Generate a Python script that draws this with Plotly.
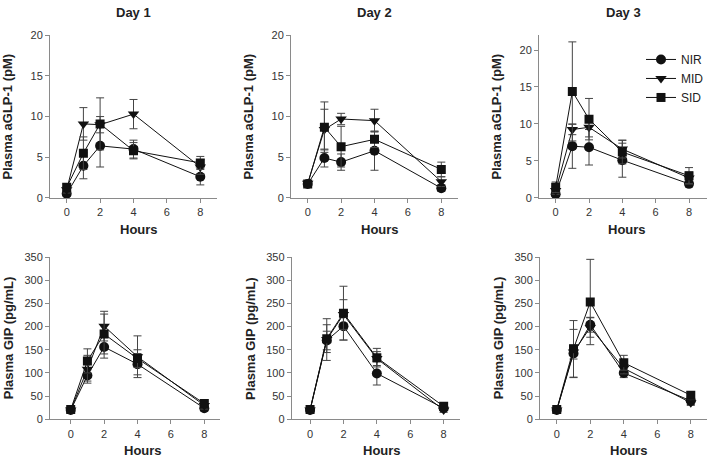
import plotly.graph_objects as go

# ---------------- data ----------------
hours = [0, 1, 2, 4, 8]
series_names = ["NIR", "MID", "SID"]
day_titles = ["Day 1", "Day 2", "Day 3"]
x_ticks = [0, 2, 4, 6, 8]

# aGLP-1 (pM)
glp1_day1_nir = [0.5, 3.95, 6.4, 6.0, 2.6]
glp1_day1_nir_err = [0.3, 1.6, 2.6, 1.1, 1.0]
glp1_day1_mid = [1.0, 9.1, 9.0, 10.3, 3.8]
glp1_day1_mid_err = [0.4, 2.0, 1.0, 1.8, 0.9]
glp1_day1_sid = [1.3, 5.5, 9.1, 5.8, 4.3]
glp1_day1_sid_err = [0.4, 2.0, 3.2, 1.0, 0.8]

glp1_day2_nir = [1.7, 4.9, 4.4, 5.8, 1.2]
glp1_day2_nir_err = [0.2, 1.1, 1.0, 2.4, 0.4]
glp1_day2_mid = [1.8, 8.4, 9.7, 9.5, 2.0]
glp1_day2_mid_err = [0.2, 2.5, 0.7, 1.4, 0.6]
glp1_day2_sid = [1.7, 8.7, 6.3, 7.2, 3.5]
glp1_day2_sid_err = [0.3, 3.1, 2.5, 1.0, 0.9]

glp1_day3_nir = [0.5, 7.0, 6.85, 5.1, 1.9]
glp1_day3_nir_err = [0.3, 3.0, 2.4, 2.3, 0.4]
glp1_day3_mid = [1.0, 9.25, 9.55, 6.6, 2.7]
glp1_day3_mid_err = [0.5, 0.7, 1.3, 1.2, 0.8]
glp1_day3_sid = [1.45, 14.4, 10.65, 6.2, 3.0]
glp1_day3_sid_err = [0.7, 6.7, 2.8, 1.6, 1.1]

# GIP (pg/mL)
gip_day1_nir = [20, 94.5, 156, 119, 24]
gip_day1_nir_err = [3, 12, 24, 23, 6]
gip_day1_mid = [20, 108, 201, 135, 30]
gip_day1_mid_err = [3, 30, 32, 45, 8]
gip_day1_sid = [21, 126, 184, 131, 34]
gip_day1_sid_err = [3, 26, 43, 19, 8]

gip_day2_nir = [20, 170, 201, 99, 24]
gip_day2_nir_err = [3, 20, 30, 25, 5]
gip_day2_mid = [20, 172, 226, 131, 20]
gip_day2_mid_err = [3, 45, 32, 15, 5]
gip_day2_sid = [21, 174, 229, 133, 28]
gip_day2_sid_err = [3, 30, 58, 20, 5]

gip_day3_nir = [20, 142, 204, 100, 40]
gip_day3_nir_err = [3, 52, 16, 10, 8]
gip_day3_mid = [20, 145, 198, 110, 36]
gip_day3_mid_err = [3, 15, 21, 12, 6]
gip_day3_sid = [21, 152, 253, 122, 52]
gip_day3_sid_err = [3, 61, 92, 16, 8]

glp1_panels = [
    [(glp1_day1_nir, glp1_day1_nir_err), (glp1_day1_mid, glp1_day1_mid_err), (glp1_day1_sid, glp1_day1_sid_err)],
    [(glp1_day2_nir, glp1_day2_nir_err), (glp1_day2_mid, glp1_day2_mid_err), (glp1_day2_sid, glp1_day2_sid_err)],
    [(glp1_day3_nir, glp1_day3_nir_err), (glp1_day3_mid, glp1_day3_mid_err), (glp1_day3_sid, glp1_day3_sid_err)],
]
gip_panels = [
    [(gip_day1_nir, gip_day1_nir_err), (gip_day1_mid, gip_day1_mid_err), (gip_day1_sid, gip_day1_sid_err)],
    [(gip_day2_nir, gip_day2_nir_err), (gip_day2_mid, gip_day2_mid_err), (gip_day2_sid, gip_day2_sid_err)],
    [(gip_day3_nir, gip_day3_nir_err), (gip_day3_mid, gip_day3_mid_err), (gip_day3_sid, gip_day3_sid_err)],
]

# ---------------- style ----------------
W, H = 709, 464
FONT = "Liberation Sans, Arial, sans-serif"
symbols = ["circle", "triangle-down", "square"]
sizes = [10, 10, 9]
AX = "#8a8a8a"
TXT = "#222222"

# panel pixel boxes: (left, right, top, bottom)
boxes = [
    (50, 217, 30, 197), (291, 458, 30, 197), (539, 707, 30, 197),
    (50, 220, 257.7, 424.3), (291.7, 460, 257.7, 424.3), (540, 706.7, 257.7, 424.3),
]
x_ranges = [[-1, 9], [-1, 9], [-1, 9.08], [-1.24, 8.94], [-1.1, 8.98], [-1, 8.95]]
y_ranges = [[0, 20], [0, 20], [0, 22], [0, 350], [0, 350], [0, 350]]
y_dticks = [5, 5, 5, 50, 50, 50]

fig = go.Figure()

all_panels = glp1_panels + gip_panels
for p, panel in enumerate(all_panels):
    ax = "" if p == 0 else str(p + 1)
    for s, (vals, errs) in enumerate(panel):
        fig.add_trace(go.Scatter(
            x=hours, y=vals,
            mode="lines+markers",
            name=series_names[s],
            legendgroup=series_names[s],
            showlegend=(p == 2),
            line=dict(color="#111111", width=1),
            marker=dict(symbol=symbols[s], size=sizes[s], color="#111111"),
            error_y=dict(type="data", array=errs, visible=True,
                         color="#444444", thickness=1, width=4),
            xaxis="x" + ax, yaxis="y" + ax,
        ))

layout = dict(
    width=W, height=H,
    margin=dict(l=0, r=0, t=0, b=0),
    paper_bgcolor="white", plot_bgcolor="white",
    font=dict(family=FONT, color=TXT, size=11),
    legend=dict(x=641 / W, y=1 - 40 / H, xanchor="left", yanchor="top",
                font=dict(size=12, color=TXT), bgcolor="rgba(0,0,0,0)",
                tracegroupgap=0),
    annotations=[],
)

for p, (l, r, t, b) in enumerate(boxes):
    ax = "" if p == 0 else str(p + 1)
    layout["xaxis" + ax] = dict(
        domain=[l / W, r / W], range=x_ranges[p], anchor="y" + ax,
        tickvals=x_ticks, ticks="outside", ticklen=4, tickcolor=AX,
        showline=True, linecolor=AX, linewidth=1, showgrid=False, zeroline=False,
        tickfont=dict(size=11, color="#333333"),
    )
    layout["yaxis" + ax] = dict(
        domain=[1 - b / H, 1 - t / H], range=y_ranges[p], anchor="x" + ax,
        dtick=y_dticks[p], tick0=0, ticks="outside", ticklen=4, tickcolor=AX,
        showline=True, linecolor=AX, linewidth=1, showgrid=False, zeroline=False,
        tickfont=dict(size=11, color="#333333"),
    )
    # y axis title
    ytitle = "Plasma aGLP-1 (pM)" if p < 3 else "Plasma GIP (pg/mL)"
    layout["annotations"].append(dict(
        text=ytitle, xref="paper", yref="paper",
        x=(l - 42) / W, y=1 - ((t + b) / 2) / H, textangle=-90,
        showarrow=False, xanchor="center", yanchor="middle",
        font=dict(size=13, color=TXT, weight="bold"),
    ))
    # x axis title
    layout["annotations"].append(dict(
        text="Hours", xref="x" + ax, yref="paper",
        x=4, xshift=5, y=1 - (b + 32) / H,
        showarrow=False, xanchor="center", yanchor="middle",
        font=dict(size=13, color=TXT, weight="bold"),
    ))
    if p < 3:
        layout["annotations"].append(dict(
            text=day_titles[p], xref="paper", yref="paper",
            x=((l + r) / 2) / W, y=1 - 7 / H,
            showarrow=False, xanchor="center", yanchor="middle",
            font=dict(size=13, color=TXT, weight="bold"),
        ))

fig.update_layout(**layout)
fig.write_html(
    "out.html",
    config={"displayModeBar": False},
    post_script="document.body.style.margin='0';document.body.style.overflow='hidden';",
)
